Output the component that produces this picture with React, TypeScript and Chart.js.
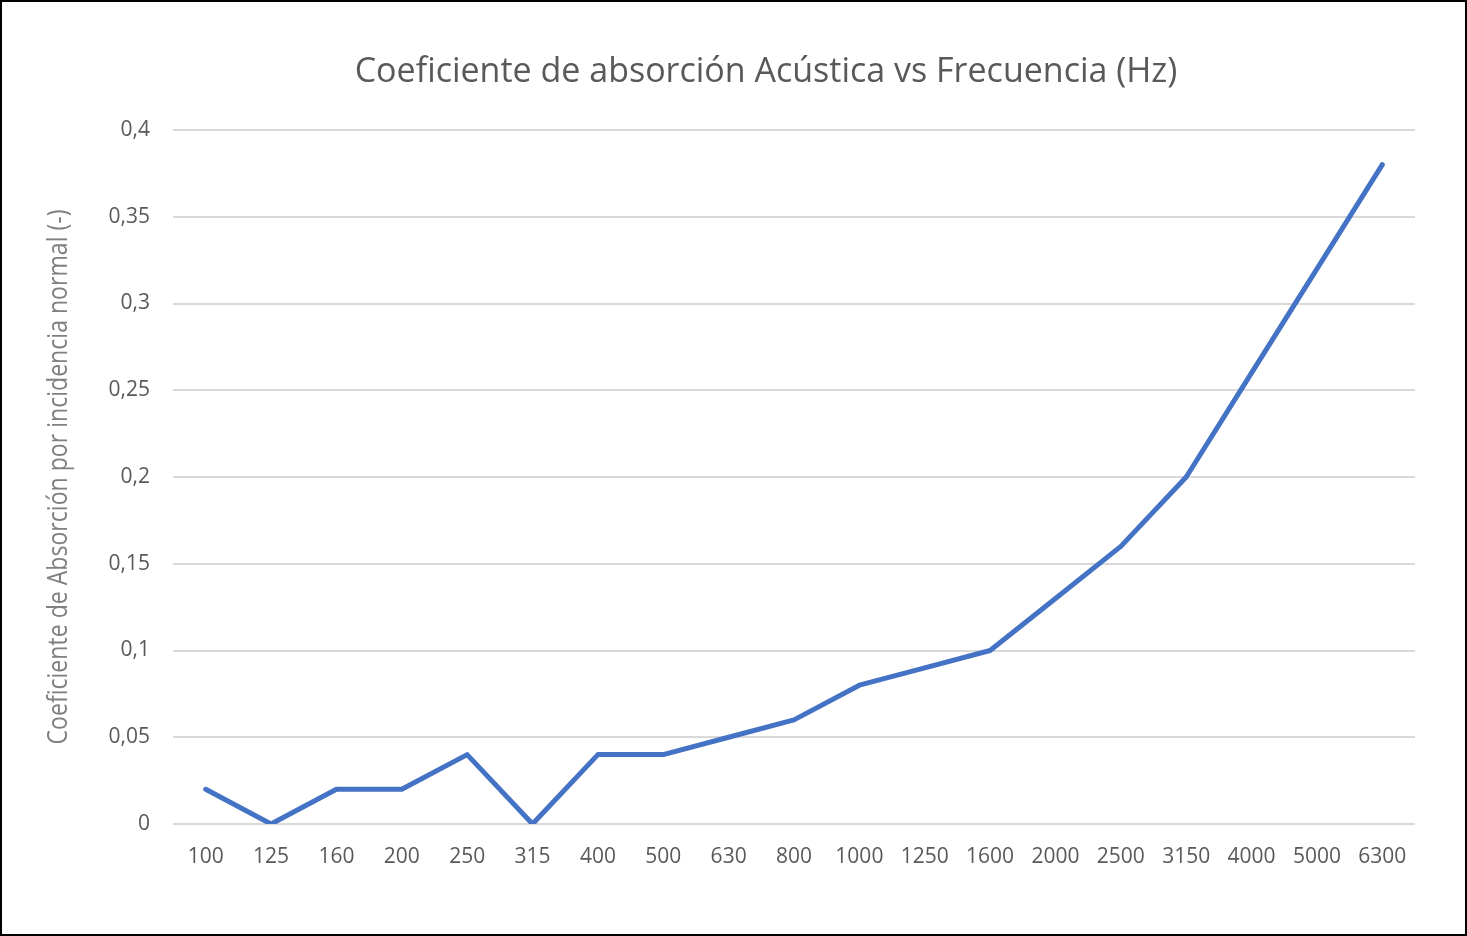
import React, { useEffect, useRef } from "react";
import { Chart, registerables } from "chart.js";

Chart.register(...registerables);

const frequencies = ["100", "125", "160", "200", "250", "315", "400", "500", "630", "800", "1000", "1250", "1600", "2000", "2500", "3150", "4000", "5000", "6300"];
const absorption = [0.02, 0, 0.02, 0.02, 0.04, 0, 0.04, 0.04, 0.05, 0.06, 0.08, 0.09, 0.10, 0.13, 0.16, 0.20, 0.26, 0.32, 0.38];
const chartTitle = "Coeficiente de absorción Acústica vs Frecuencia (Hz)";
const yTitle = "Coeficiente de Absorción por incidencia normal (-)";

const titlePlugin = {
  id: "centeredTitle",
  afterDraw(chart: any) {
    const ctx = chart.ctx;
    ctx.save();
    ctx.font = "normal 34px 'Open Sans', sans-serif";
    ctx.fillStyle = "#595959";
    ctx.textAlign = "center";
    ctx.textBaseline = "middle";
    ctx.fillText(chartTitle, 764, 70);
    ctx.restore();

    // condensed vertical axis title
    ctx.save();
    ctx.font = "normal 28px 'Open Sans', sans-serif";
    ctx.fillStyle = "#808080";
    ctx.textAlign = "center";
    ctx.textBaseline = "middle";
    const w = ctx.measureText(yTitle).width;
    const targetLen = 535;
    ctx.translate(57, 475);
    ctx.rotate(-Math.PI / 2);
    ctx.scale(targetLen / w, 1);
    ctx.fillText(yTitle, 0, 0);
    ctx.restore();
  },
};

export default function App() {
  const ref = useRef<HTMLCanvasElement>(null);
  useEffect(() => {
    document.body.style.margin = "0";
    const ctx = ref.current!;
    const chart = new Chart(ctx, {
      type: "line",
      data: {
        labels: frequencies,
        datasets: [
          {
            data: absorption,
            borderColor: "#4472C4",
            backgroundColor: "#4472C4",
            borderWidth: 5,
            pointRadius: 0,
            pointHoverRadius: 0,
            borderJoinStyle: "round",
            borderCapStyle: "round",
            tension: 0,
          },
        ],
      },
      plugins: [titlePlugin],
      options: {
        animation: false,
        responsive: false,
        maintainAspectRatio: false,
        layout: { padding: { left: 0, right: 50, top: 128, bottom: 0 } },
        plugins: {
          legend: { display: false },
          tooltip: { enabled: false },
          title: { display: false },
        },
        scales: {
          x: {
            offset: true,
            grid: { display: false, drawTicks: false },
            border: { display: false },
            ticks: {
              color: "#595959",
              font: { family: "'Open Sans', sans-serif", size: 21 },
              padding: 20,
              maxRotation: 0,
              autoSkip: false,
            },
            afterFit: (s: any) => {
              s.height = 110;
            },
          },
          y: {
            min: 0,
            max: 0.4,
            grid: { color: "#d9d9d9", lineWidth: 2, drawTicks: false },
            border: { display: false },
            ticks: {
              stepSize: 0.05,
              color: "#595959",
              font: { family: "'Open Sans', sans-serif", size: 21 },
              padding: 23,
              callback: (v: any) => {
                const n = Math.round(Number(v) * 100) / 100;
                return String(n).replace(".", ",");
              },
            },
            title: { display: false, text: yTitle },
            afterFit: (s: any) => {
              s.width = 171;
            },
          },
        },
      },
    });
    return () => chart.destroy();
  }, []);
  return (
    <div
      style={{
        position: "fixed",
        left: 0,
        top: 0,
        width: 1467,
        height: 936,
        boxSizing: "border-box",
        border: "2px solid #000",
        background: "#fff",
      }}
    >
      <canvas ref={ref} width={1463} height={932} style={{ display: "block" }} />
    </div>
  );
}
